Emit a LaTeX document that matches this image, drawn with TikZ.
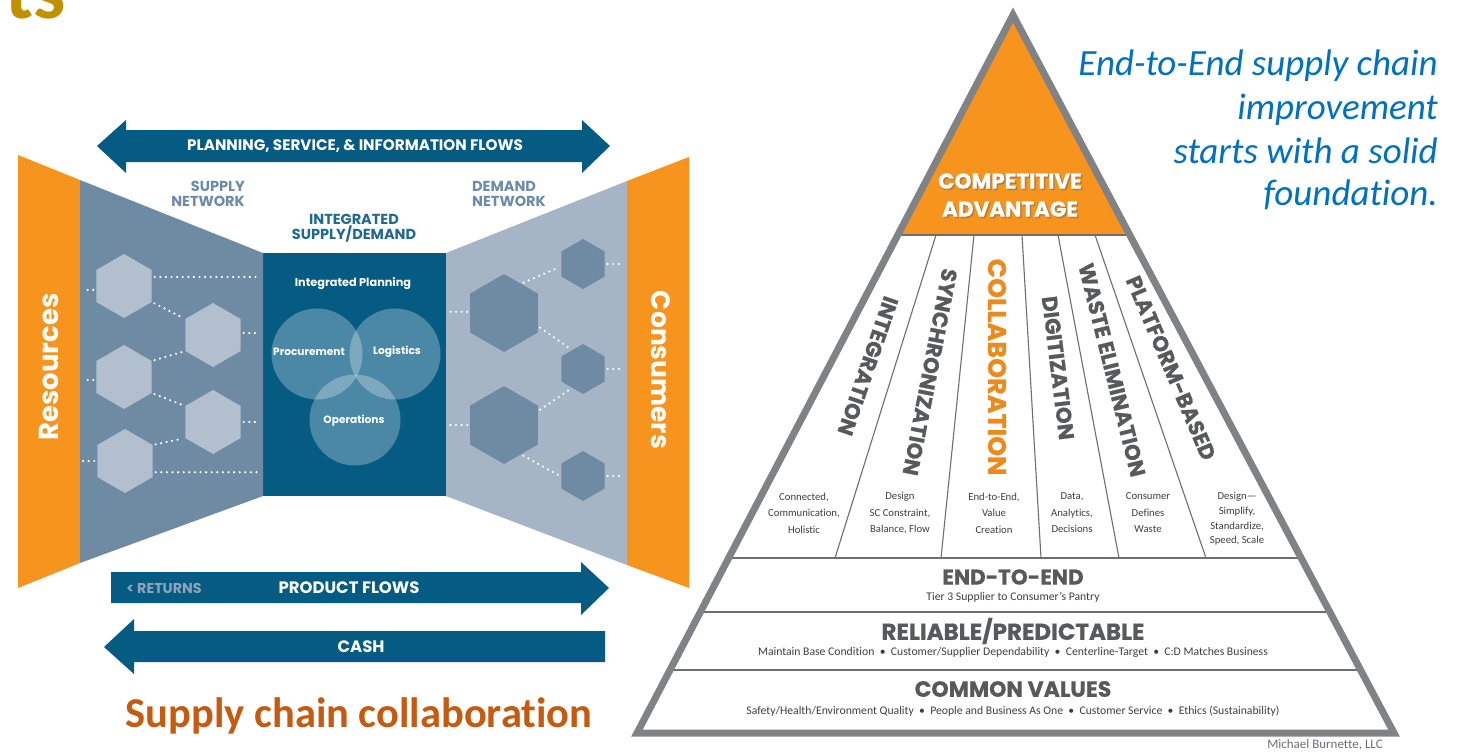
\documentclass[tikz,border=0pt]{standalone}
\usepackage{fontspec}
\setmainfont{Carlito}[Ligatures=NoCommon]
\newfontfamily\pop{Poppins}
\newfontfamily\popx{Poppins}[FakeBold=0.7]
\usetikzlibrary{shapes.geometric}
\definecolor{dblue}{HTML}{065B83}
\definecolor{slate}{HTML}{6F8BA3}
\definecolor{lslate}{HTML}{A5B5C6}
\definecolor{hexlight}{HTML}{B1BFCE}
\definecolor{orng}{HTML}{F7941E}
\definecolor{lbl}{HTML}{6B8BA8}
\definecolor{lbldark}{HTML}{1F6A93}
\definecolor{retgray}{HTML}{8FA3B8}
\definecolor{pgray}{HTML}{58595B}
\definecolor{bgray}{HTML}{808285}
\definecolor{sepgray}{HTML}{6D6E71}
\definecolor{smallgray}{HTML}{3F3F3F}
\definecolor{gold}{HTML}{BF9000}
\definecolor{ttl}{HTML}{C55A11}
\definecolor{bluet}{HTML}{0070C0}
\definecolor{corange}{HTML}{EE8A1C}
\tikzset{
  dots/.style={white, line width=2.4pt, line cap=round, dash pattern=on 0pt off 5.6pt, shorten <=3pt, shorten >=3pt},
  hexbase/.style={regular polygon, regular polygon sides=6, shape border rotate=30, inner sep=0pt, outer sep=0pt},
  hexl/.style={hexbase, fill=hexlight, minimum size=64pt},
  hexbig/.style={hexbase, fill=slate, minimum size=78pt},
  hexsm/.style={hexbase, fill=slate, minimum size=50pt},
  netlbl/.style={font=\pop\bfseries\fontsize{14.5}{15}\selectfont, inner sep=0pt},
  arrtxt/.style={text=white, font=\pop\bfseries\fontsize{16.5}{18}\selectfont, inner sep=0pt},
  boxtxt/.style={text=white, font=\pop\bfseries\fontsize{10.6}{12}\selectfont, inner sep=0pt},
  venn/.style={circle, fill=white, fill opacity=0.28, minimum size=91pt, inner sep=0pt},
  ptitle/.style={text=pgray, font=\popx\bfseries\fontsize{21.5}{24}\selectfont, inner sep=0pt},
  layer/.style={text=pgray, font=\popx\bfseries\fontsize{21.5}{24}\selectfont, inner sep=0pt},
  small/.style={text=smallgray, font=\fontsize{10.7}{16.5}\selectfont, align=center, inner sep=0pt},
  lsmall/.style={text=smallgray, font=\fontsize{11.7}{14}\selectfont, inner sep=0pt},
  sep/.style={sepgray, line width=2.5pt},
  divider/.style={sepgray, line width=1.1pt},
  blueline/.style={text=bluet, font=\itshape\fontsize{37}{40}\selectfont, anchor=base east, inner sep=0pt},
}
\begin{document}
\begin{tikzpicture}[x=1pt,y=-1pt]
\useasboundingbox (0,0) rectangle (1470,753);
% fragment of a heading
\node[anchor=base east, text=gold, font=\bfseries\fontsize{81}{81}\selectfont, inner sep=0pt] (ts) at (66,18) {ts};

% ---------- left diagram ----------
\coordinate (fl) at (80,0);
\coordinate (fr) at (627,0);
\node[fill=dblue, minimum width=183pt, minimum height=243pt, inner sep=0pt, outer sep=0pt, anchor=north west] (box) at (263,253) {};
\fill[orng] (18,155) -- (80,180) -- (80,563) -- (18,588) -- cycle;
\fill[slate] (80,180) -- (box.north west) -- (box.south west) -- (80,563) -- cycle;
\fill[lslate] (box.north east) -- (627,181) -- (627,565) -- (box.south east) -- cycle;
\fill[orng] (627,181) -- (689,157) -- (689,588) -- (627,565) -- cycle;

\node[rotate=90, text=white, font=\pop\bfseries\fontsize{27.5}{30}\selectfont, inner sep=0pt] (res) at (49,367) {Resources};
\node[rotate=-90, text=white, font=\pop\bfseries\fontsize{26.5}{30}\selectfont, inner sep=0pt] (con) at (661,370) {Consumers};

% top arrow
\fill[dblue] (97,146) -- (126,120) -- (126,130) -- (582,130) -- (582,120) -- (610,146) -- (582,173) -- (582,162) -- (126,162) -- (126,173) -- cycle;
\node[arrtxt, font=\pop\bfseries\fontsize{15.2}{18}\selectfont] (planning) at (355,146) {PLANNING, SERVICE, \& INFORMATION FLOWS};

\node[netlbl, text=lbl, align=right, anchor=east] (supnet) at (245,194) {SUPPLY\\NETWORK};
\node[netlbl, text=lbl, align=left, anchor=west] (demnet) at (472,194) {DEMAND\\NETWORK};
\node[netlbl, text=lbldark, align=center] (isd) at (354,228) {INTEGRATED\\SUPPLY/DEMAND};

% hexagons left
\node[hexl] (h1) at (124,286) {};
\node[hexl] (h2) at (213,335) {};
\node[hexl] (h3) at (124,377) {};
\node[hexl] (h4) at (213,422) {};
\node[hexl] (h5) at (125,461) {};
\draw[dots] (h1.188) -- (h1.188 -| fl);
\draw[dots] (h3.186) -- (h3.186 -| fl);
\draw[dots] (h5.west) -- (h5.west -| fl);
\draw[dots] (h1.18) -- (h1.18 -| box.west);
\draw[dots] (h5.-22) -- (h5.-22 -| box.west);
\draw[dots] (h2.4) -- (h2.4 -| box.west);
\draw[dots] (h4.east) -- (h4.east -| box.west);
\draw[dots] (h1.-30) -- (h2.150);
\draw[dots] (h3.30) -- (h2.210);
\draw[dots] (h3.-30) -- (h4.150);
\draw[dots] (h5.30) -- (h4.210);

% hexagons right
\node[hexbig] (hA) at (504,313) {};
\node[hexbig] (hB) at (504,425) {};
\node[hexsm] (s1) at (583,264) {};
\node[hexsm] (s2) at (583,369) {};
\node[hexsm] (s3) at (583,476) {};
\draw[dots] (hA.178) -- (hA.178 -| box.east);
\draw[dots] (hB.west) -- (hB.west -| box.east);
\draw[dots] (hA.60) -- (s1.186);
\draw[dots] (hA.-21) -- (s2.120);
\draw[dots] (hB.22) -- (s2.240);
\draw[dots] (hB.-60) -- (s3.182);
\draw[dots] (s1.east) -- (s1.east -| fr);
\draw[dots] (s2.east) -- (s2.east -| fr);
\draw[dots] (s3.east) -- (s3.east -| fr);

% center box content
\node[boxtxt, font=\pop\bfseries\fontsize{11.3}{12}\selectfont] (ip) at (353,284) {Integrated Planning};
\node[venn] (cproc) at (317,354) {};
\node[venn] (clog) at (395,354) {};
\node[venn] (cops) at (355,420) {};
\node[boxtxt] (tproc) at (309,352) {Procurement};
\node[boxtxt] (tlog) at (397,352) {Logistics};
\node[boxtxt] (tops) at (354,421) {Operations};

% bottom arrows
\fill[dblue] (111,572) -- (581,572) -- (581,562) -- (609,588) -- (581,615) -- (581,603) -- (111,603) -- cycle;
\node[arrtxt, text=retgray, font=\pop\bfseries\fontsize{14.3}{18}\selectfont] (ret) at (164,588) {< RETURNS};
\node[arrtxt] (prod) at (349,588) {PRODUCT FLOWS};
\fill[dblue] (605,631) -- (134,631) -- (134,619) -- (104,647) -- (134,674) -- (134,662) -- (605,662) -- cycle;
\node[arrtxt] (cash) at (361,647) {CASH};

\node[text=ttl, font=\bfseries\fontsize{42.5}{44}\selectfont, inner sep=0pt] (title) at (359,716) {Supply chain collaboration};

% ---------- pyramid ----------
\coordinate (PA) at (1013,15);
\coordinate (PL) at (637,733);
\coordinate (PR) at (1394,733);
\fill[white] (PA) -- (PL) -- (PR) -- cycle;
\begin{scope}
  \clip (PA) -- (PL) -- (PR) -- cycle;
  \fill[orng] (600,0) rectangle (1420,235);
  \foreach \yy in {235,558,612,670} \draw[sep] (600,\yy) -- (1420,\yy);
  \draw[divider] (936,235) -- (835,558);
  \draw[divider] (974,235) -- (941,558);
  \draw[divider] (1022,235) -- (1041,558);
  \draw[divider] (1058,235) -- (1119,558);
  \draw[divider] (1095,235) -- (1206,558);
\end{scope}
\draw[bgray, line width=7pt, line join=miter] (PA) -- (PL) -- (PR) -- cycle;

\node[text=black!60, opacity=0.45, font=\popx\bfseries\fontsize{21.5}{28}\selectfont, align=center, inner sep=0pt] (cashadow) at (1011.5,196.5) {COMPETITIVE\\ADVANTAGE};
\node[text=white, font=\popx\bfseries\fontsize{21.5}{28}\selectfont, align=center, inner sep=0pt] (ca) at (1010,195) {COMPETITIVE\\ADVANTAGE};

\node[ptitle, rotate=-109] (tint) at (868,366) {INTEGRATION};
\node[ptitle, rotate=-101] (tsyn) at (930,372) {SYNCHRONIZATION};
\node[ptitle, text=corange, font=\popx\bfseries\fontsize{25.5}{26}\selectfont, rotate=-90] (tcol) at (997,367) {COLLABORATION};
\node[ptitle, rotate=-83] (tdig) at (1058,368) {DIGITIZATION};
\node[ptitle, rotate=-76] (twas) at (1112,370) {WASTE ELIMINATION};
\node[ptitle, rotate=-67] (tpla) at (1171,368) {PLATFORM-BASED};

\node[small] (b1) at (804,513) {Connected,\\Communication,\\Holistic};
\node[small] (b2) at (900,513) {Design\\SC Constraint,\\Balance, Flow};
\node[small] (b3) at (994,513) {End-to-End,\\Value\\Creation};
\node[small] (b4) at (1072,513) {Data,\\Analytics,\\Decisions};
\node[small] (b5) at (1148,513) {Consumer\\Defines\\Waste};
\node[small, font=\fontsize{10.7}{14.7}\selectfont] (b6) at (1237,519) {Design---\\Simplify,\\Standardize,\\Speed, Scale};

\node[layer] (l1) at (1013,577) {END-TO-END};
\node[lsmall] (l1s) at (1013,597) {Tier 3 Supplier to Consumer’s Pantry};
\node[layer, font=\popx\bfseries\fontsize{23}{24}\selectfont] (l2) at (1013,631) {RELIABLE/PREDICTABLE};
\node[lsmall] (l2s) at (1013,652) {Maintain Base Condition \ • \ Customer/Supplier Dependability \ • \ Centerline-Target \ • \ C:D Matches Business};
\node[layer, font=\popx\bfseries\fontsize{22}{24}\selectfont] (l3) at (1013,689) {COMMON VALUES};
\node[lsmall] (l3s) at (1013,711) {Safety/Health/Environment Quality \ • \ People and Business As One \ • \ Customer Service \ • \ Ethics (Sustainability)};
\node[lsmall, text=sepgray, font=\fontsize{13}{14}\selectfont] (mb) at (1325,745) {Michael Burnette, LLC};

% blue statement
\node[blueline] (q1) at (1438,75) {End-to-End supply chain};
\node[blueline] (q2) at (1438,119) {improvement};
\node[blueline] (q3) at (1438,163) {starts with a solid};
\node[blueline] (q4) at (1438,205) {foundation.};
\end{tikzpicture}
\end{document}
